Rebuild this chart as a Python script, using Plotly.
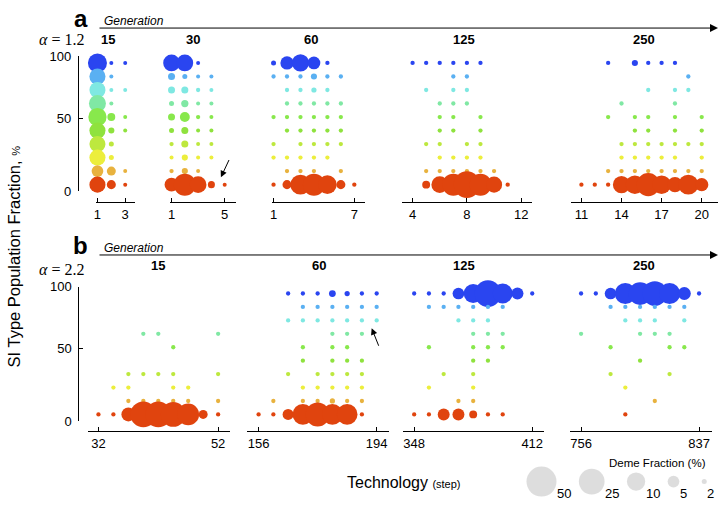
import numpy as np
import plotly.graph_objects as go

W, H = 722, 509

# ---------------- data ----------------
SI_LEVELS = [95, 85, 75, 65, 55, 45, 35, 25, 15, 5]          # SI type population fraction (%) rows
SI_COLORS = ['#2a45f0', '#5ab0f2', '#7fe8e2', '#80e8a4', '#88e84c',
             '#8fe23e', '#bde83e', '#ecee3c', '#e8b23e', '#e0440e']

A_GENS = ['15', '30', '60', '125', '250']
B_GENS = ['15', '60', '125', '250']

# each row: list of (technology, deme fraction %) from SI=95 down to SI=5
A15_ROWS = [
    [(1, 11.5), (2, 1), (3, 1)],
    [(1, 8.3), (2, 1)],
    [(1, 8.3), (2, 1), (3, 1)],
    [(1, 9.0), (2, 1)],
    [(1, 10.0), (2, 3.3), (3, 1)],
    [(1, 8.3), (2, 2.5), (3, 1)],
    [(1, 8.3), (2, 2)],
    [(1, 8.3), (2, 2)],
    [(1, 5.0), (2, 3.8), (3, 1)],
    [(1, 8.3), (2, 3.8), (3, 1)],
]
A30_ROWS = [
    [(1, 8.8), (2, 8.8), (3, 1)],
    [(1, 2.9), (2, 2), (3, 1), (4, 1)],
    [(1, 2.9), (2, 2.9), (3, 1.3), (4, 1)],
    [(1, 2), (2, 3), (3, 1), (4, 1)],
    [(1, 2.9), (2, 4.2), (3, 1.3), (4, 1)],
    [(1, 2), (2, 2.9), (3, 1), (4, 1)],
    [(1, 1.3), (2, 2.9), (3, 1), (4, 1)],
    [(1, 1), (2, 2.5), (3, 1), (4, 1)],
    [(1, 1.3), (2, 2.5), (3, 1)],
    [(1, 6.7), (2, 17.5), (3, 8.8), (4, 2.9), (5, 1)],
]
A60_ROWS = [
    [(1, 2), (2, 6.2), (3, 9.2), (4, 5.8), (5, 1.3)],
    [(1, 1.3), (2, 1.3), (3, 1.3), (4, 2.5), (5, 1.3), (6, 1.3)],
    [(2, 1.3), (3, 1.3), (4, 2.1), (5, 1.3)],
    [(2, 1.3), (3, 1.3), (4, 1.3), (5, 1.3), (6, 1.3)],
    [(1, 1.3), (2, 1.3), (3, 1.3), (4, 1.3), (5, 1.3), (6, 1.3)],
    [(2, 1.3), (3, 1.3), (4, 1.3), (5, 1.3), (6, 1.3)],
    [(1, 1.3), (3, 1.3), (4, 1.3), (5, 1.3), (6, 1.3)],
    [(1, 1.3), (2, 1.3), (3, 1.3), (4, 1.3), (5, 1.3)],
    [(2, 1.3), (3, 1.3), (4, 1.3), (6, 1.3)],
    [(1, 1.3), (2, 3.8), (3, 13.4), (4, 17.5), (5, 10.5), (6, 3.8), (7, 1.3)],
]
A125_ROWS = [
    [(4, 1.3), (5, 1.3), (6, 1.3), (7, 1.3), (8, 1.3), (9, 1.3)],
    [(7, 1.3), (8, 1.3)],
    [(5, 1.3), (7, 1.3), (8, 1.3)],
    [(6, 1.3), (7, 1.3), (8, 1.3)],
    [(6, 1.3), (7, 1.3), (9, 1.3)],
    [(6, 1.3), (7, 1.3), (9, 1.3)],
    [(5, 1.3), (6, 1.3), (8, 1.3), (9, 1.3)],
    [(6, 1.3), (7, 1.3), (8, 1.3), (9, 1.3)],
    [(5, 1.3), (6, 1.3), (7, 1.3), (8, 1.3), (9, 1.3), (10, 1.3)],
    [(5, 3.3), (6, 8.8), (7, 17.5), (8, 30), (9, 17.5), (10, 8.3), (11, 1.3)],
]
A250_ROWS = [
    [(13, 1.3), (15, 2.5), (16, 1.3), (17, 1.3), (18, 1.3)],
    [(19, 1.3)],
    [(16, 1.3), (18, 1.3), (19, 1.3)],
    [(14, 1.3), (18, 1.3)],
    [(13, 1.3), (15, 1.3), (16, 1.3), (18, 1.3), (20, 1.3)],
    [(15, 1.3), (16, 1.3), (18, 1.3), (20, 1.3)],
    [(14, 1.3), (15, 1.3), (16, 1.3), (17, 1.3), (18, 1.3), (19, 1.3), (20, 1.3)],
    [(14, 1.3), (15, 1.3), (16, 1.3), (17, 1.3), (18, 1.3), (20, 1.3)],
    [(13, 1.3), (14, 1.3), (15, 1.3), (16, 1.3), (17, 1.3), (18, 1.3), (19, 1.3), (20, 1.3)],
    [(11, 1.3), (12, 1.3), (13, 1.3), (14, 9.2), (15, 10.4), (16, 20), (17, 10.4),
     (18, 7.7), (19, 13.4), (20, 6.2)],
]

B15_ROWS = [
    [], [], [],
    [(39.5, 1.3), (42, 1.3), (52, 1.3)],
    [(44.5, 1.3)],
    [],
    [(37, 1.3), (39.5, 1.3), (42, 1.3), (44.5, 1.3), (52, 1.3)],
    [(34.5, 1.3), (37, 1.3), (44.5, 1.3), (47, 1.3)],
    [(37, 1.3), (39.5, 1.3), (42, 1.3), (44.5, 1.3), (47, 1.3), (52, 1.3)],
    [(32, 1.3), (34.5, 1.3), (37, 6.7), (39.5, 26), (42, 26), (44.5, 23), (47, 17),
     (49.5, 3.8), (52, 1.3)],
]
B60_ROWS = [
    [(165.5, 1.3), (170.25, 1.3), (175, 1.3), (179.75, 2.8), (184.5, 2.1), (189.25, 1.3), (194, 1.3)],
    [(170.25, 1.3), (175, 1.3), (179.75, 1.3), (184.5, 1.3), (189.25, 1.3), (194, 1.3)],
    [(165.5, 1.3), (170.25, 1.3), (175, 1.3), (179.75, 1.3), (184.5, 1.3), (189.25, 1.3), (194, 1.3)],
    [(179.75, 1.3), (184.5, 1.3), (189.25, 1.3)],
    [(170.25, 1.3), (179.75, 1.3), (184.5, 1.3)],
    [(170.25, 1.3), (179.75, 1.3), (184.5, 1.3), (189.25, 1.3)],
    [(165.5, 1.3), (175, 1.3), (179.75, 1.3), (184.5, 1.3), (189.25, 1.3)],
    [(170.25, 1.3), (175, 1.3), (179.75, 1.3), (184.5, 1.3), (189.25, 1.3)],
    [(160.75, 1.3), (170.25, 1.3), (175, 1.3), (179.75, 2.1), (184.5, 1.3), (189.25, 1.3)],
    [(156, 1.3), (160.75, 1.3), (165.5, 4.7), (170.25, 14.9), (175, 21.6), (179.75, 14.9),
     (184.5, 14.9), (189.25, 1.3)],
]
B125_ROWS = [
    [(348, 1.3), (356, 1.3), (364, 1.3), (372, 5.0), (380, 11.4), (388, 30), (396, 13.4),
     (404, 5.2), (412, 1.3)],
    [(356, 1.3), (364, 1.3), (372, 1.3), (380, 1.3), (388, 1.3), (396, 1.3)],
    [(372, 1.3), (380, 1.3), (388, 1.3)],
    [(380, 1.3), (388, 1.3), (396, 1.3)],
    [(356, 1.3), (380, 1.3), (388, 1.3), (396, 1.3)],
    [(380, 1.3), (388, 1.3)],
    [(364, 1.3), (380, 1.3)],
    [(356, 1.3), (380, 1.3)],
    [(372, 1.3), (380, 1.3)],
    [(348, 1.3), (356, 1.3), (364, 5.2), (372, 5.2), (380, 3.3), (388, 1.3), (396, 1.3)],
]
B250_ROWS = [
    [(756, 1.3), (766.125, 1.3), (776.25, 5.0), (786.375, 15.5), (796.5, 19), (806.625, 23),
     (816.75, 15.5), (826.875, 6), (837, 1.3)],
    [(776.25, 1.3), (786.375, 1.3), (796.5, 1.3), (806.625, 1.3), (816.75, 1.3), (826.875, 1.3)],
    [(786.375, 1.3), (796.5, 1.3), (806.625, 1.3), (826.875, 1.3)],
    [(756, 1.3), (796.5, 1.3), (806.625, 1.3), (816.75, 1.3)],
    [(776.25, 1.3), (816.75, 1.3), (826.875, 1.3)],
    [(796.5, 1.3)],
    [(776.25, 1.3), (816.75, 1.3)],
    [(786.375, 1.3)],
    [(806.625, 1.3)],
    [(786.375, 1.3)],
]

A_TICKS = [[1, 3], [1, 5], [1, 7], [4, 8, 12], [11, 14, 17, 20]]
B_TICKS = [[32, 52], [156, 194], [348, 412], [756, 837]]
Y_TICKVALS = [0, 54, 100]
Y_TICKTEXT = ['0', '50', '100']

LEGEND_FRACS = [50, 25, 10, 5, 2]

# ---------------- style / layout ----------------
FRAC_KEYS = [0, 1, 2, 5, 10, 25, 50, 100]
DIAM_PX = [2.5, 4, 5, 11.7, 18.3, 25.7, 30, 36]
FONT = 'Liberation Sans, Arial, Helvetica, sans-serif'

def px_x(p):
    return p / W

def px_y(p):
    return 1 - p / H

# subplot pixel boxes (x-axis line extents) and data ranges
A_BOX = [(94, 133.3, 0.877, 3.70), (168.3, 234.3, 0.872, 5.825), (271, 364.3, 0.904, 7.815),
         (401, 531.7, 3.213, 12.81), (570.7, 718, 10.23, 21.22)]
B_BOX = [(86.7, 228.3, 30.33, 53.93), (246, 387.7, 152.37, 197.85), (402.3, 544, 342.05, 418.65),
         (569.3, 711.7, 748.2, 845.7)]
A_Y = (45, 201, -7.90, 104.09)
B_Y = (282, 437.3, -7.66, 104.55)

fig = go.Figure()
layout = dict(width=W, height=H, autosize=False, margin=dict(l=0, r=0, t=0, b=0),
              paper_bgcolor='white', plot_bgcolor='rgba(0,0,0,0)',
              font=dict(family=FONT, color='black'), showlegend=False)

panels = [(A15_ROWS, A_BOX[0], A_TICKS[0], A_Y), (A30_ROWS, A_BOX[1], A_TICKS[1], A_Y),
          (A60_ROWS, A_BOX[2], A_TICKS[2], A_Y), (A125_ROWS, A_BOX[3], A_TICKS[3], A_Y),
          (A250_ROWS, A_BOX[4], A_TICKS[4], A_Y),
          (B15_ROWS, B_BOX[0], B_TICKS[0], B_Y), (B60_ROWS, B_BOX[1], B_TICKS[1], B_Y),
          (B125_ROWS, B_BOX[2], B_TICKS[2], B_Y), (B250_ROWS, B_BOX[3], B_TICKS[3], B_Y)]

for i, (rows, box, ticks, ybox) in enumerate(panels, start=1):
    xs, ys, fs, cs = [], [], [], []
    for si, col, row in zip(SI_LEVELS, SI_COLORS, rows):
        for t, f in row:
            xs.append(t); ys.append(si); fs.append(f); cs.append(col)
    sfx = '' if i == 1 else str(i)
    fig.add_trace(go.Scatter(
        x=xs, y=ys, mode='markers', xaxis='x' + sfx, yaxis='y' + sfx,
        marker=dict(size=np.interp(fs, FRAC_KEYS, DIAM_PX), color=cs, line=dict(width=0), opacity=1),
        cliponaxis=False, hoverinfo='skip', showlegend=False))
    l, r, x0, x1 = box
    t, b, y0, y1 = ybox
    layout['xaxis' + sfx] = dict(domain=[px_x(l), px_x(r)], range=[x0, x1], anchor='y' + sfx,
                                 showline=True, linecolor='black', linewidth=1, ticks='inside',
                                 ticklen=4, tickwidth=1, tickcolor='black', tickvals=ticks,
                                 showgrid=False, zeroline=False, tickfont=dict(size=13),
                                 fixedrange=True)
    layout['yaxis' + sfx] = dict(domain=[px_y(b), px_y(t)], range=[y0, y1], anchor='x' + sfx,
                                 visible=False, fixedrange=True)

# separate y-axes (0-100 only) for each row
for k, (top, bot, xpos) in zip([10, 11], [(50.7, 190, 77), (288.3, 426.7, 77.5)]):
    layout['xaxis%d' % k] = dict(domain=[px_x(xpos), px_x(xpos + 4)], range=[0, 1],
                                 showline=False, showticklabels=False, ticks='', showgrid=False,
                                 zeroline=False, anchor='y%d' % k, fixedrange=True)
    layout['yaxis%d' % k] = dict(domain=[px_y(bot), px_y(top)], range=[0, 100], anchor='x%d' % k,
                                 showline=True, linecolor='black', linewidth=1, ticks='inside',
                                 ticklen=4, tickcolor='black', tickvals=Y_TICKVALS,
                                 ticktext=Y_TICKTEXT, showgrid=False, zeroline=False,
                                 tickfont=dict(size=13), ticklabelstandoff=4, fixedrange=True)
    fig.add_trace(go.Scatter(x=[0.5], y=[50], mode='markers', xaxis='x%d' % k, yaxis='y%d' % k,
                             marker=dict(size=1, opacity=0), hoverinfo='skip', showlegend=False))

# legend of bubble sizes
leg_d = np.interp(LEGEND_FRACS, FRAC_KEYS, DIAM_PX)
gap = 22.5
leg_x = []
cur = 526.0
for d in leg_d:
    leg_x.append(cur + d / 2)
    cur += d + gap
layout['xaxis12'] = dict(domain=[px_x(500), 1], range=[500, W], visible=False, anchor='y12')
layout['yaxis12'] = dict(domain=[px_y(509), px_y(460)], range=[509, 460], visible=False, anchor='x12')
fig.add_trace(go.Scatter(x=leg_x, y=[489] * len(leg_x), mode='markers', xaxis='x12', yaxis='y12',
                         marker=dict(size=leg_d, color='#cfcfcf', line=dict(width=0)),
                         cliponaxis=False, hoverinfo='skip', showlegend=False))

ann = []
for xc, d, f in zip(leg_x, leg_d, LEGEND_FRACS):
    ann.append(dict(x=px_x(xc + d / 2 - 1.5), y=px_y(501), xref='paper', yref='paper',
                    text=str(f), showarrow=False, xanchor='left', yanchor='middle',
                    font=dict(size=13)))
ann.append(dict(x=px_x(708), y=px_y(470), xref='paper', yref='paper', text='Deme Fraction (%)',
                showarrow=False, xanchor='right', yanchor='middle', font=dict(size=11.5)))

# panel labels, generation headers
for lab, ylab, ygen, yarr, alpha, yal in [('a', 12, 14, 21.7, '1.2', 33), ('b', 246, 248, 255.5, '2.2', 270)]:
    ann.append(dict(x=px_x(79), y=px_y(ylab), xref='paper', yref='paper', text='<b>%s</b>' % lab,
                    showarrow=False, xanchor='center', yanchor='middle', font=dict(size=24)))
    ann.append(dict(x=px_x(100), y=px_y(ygen), xref='paper', yref='paper', text='<i>Generation</i>',
                    showarrow=False, xanchor='left', yanchor='middle', font=dict(size=12)))
    ann.append(dict(x=px_x(718), y=px_y(yarr), ax=98 - 718, ay=0, xref='paper', yref='paper',
                    axref='pixel', ayref='pixel', text='', showarrow=True, arrowhead=2,
                    arrowsize=1.6, arrowwidth=1, arrowcolor='black'))
    ann.append(dict(x=px_x(60), y=px_y(yal), xref='paper', yref='paper',
                    text='<i>α</i> = %s' % alpha, showarrow=False, xanchor='center', yanchor='middle',
                    font=dict(size=16, family='Liberation Serif, DejaVu Serif, serif')))

for g, xc in zip(A_GENS, [106, 191.7, 310, 463.3, 643.3]):
    ann.append(dict(x=px_x(xc), y=px_y(33), xref='paper', yref='paper', text='<b>%s</b>' % g,
                    showarrow=False, xanchor='center', yanchor='middle', font=dict(size=13)))
for g, xc in zip(B_GENS, [156.7, 317.7, 463.3, 643.3]):
    ann.append(dict(x=px_x(xc), y=px_y(266.7), xref='paper', yref='paper', text='<b>%s</b>' % g,
                    showarrow=False, xanchor='center', yanchor='middle', font=dict(size=13)))

# small pointer arrows
for (tx, ty), (hx, hy) in [((228.3, 156.7), (219.5, 175.5)), ((378.3, 350), (370.7, 331))]:
    ann.append(dict(x=px_x(hx), y=px_y(hy), ax=tx - hx, ay=ty - hy, xref='paper', yref='paper',
                    axref='pixel', ayref='pixel', text='', showarrow=True, arrowhead=2,
                    arrowsize=1.3, arrowwidth=1, arrowcolor='black'))

# axis titles
ann.append(dict(x=px_x(12), y=px_y(257), xref='paper', yref='paper', textangle=-90,
                text="SI Type Population Fraction, <span style='font-size:11px'>%</span>",
                showarrow=False, xanchor='center', yanchor='middle', font=dict(size=16.5)))
ann.append(dict(x=px_x(403), y=px_y(490), xref='paper', yref='paper',
                text="Technology <span style='font-size:11px'>(step)</span>",
                showarrow=False, xanchor='center', yanchor='middle', font=dict(size=16)))

layout['annotations'] = ann
fig.update_layout(**layout)
fig.write_html('out.html', config={'displayModeBar': False},
               post_script="document.body.style.margin='0px';document.body.style.overflow='hidden';")
